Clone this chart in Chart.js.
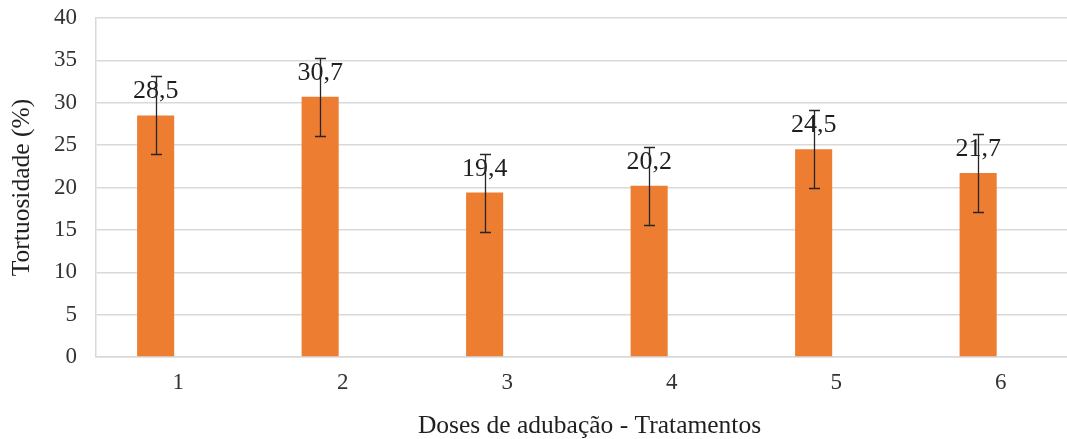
<!DOCTYPE html>
<html>
<head>
<meta charset="utf-8">
<script src="https://cdn.jsdelivr.net/npm/chart.js@4"></script>
<style>
  html, body { margin: 0; padding: 0; background: #ffffff; overflow: hidden; }
  #wrap { width: 1083px; height: 439px; }
</style>
</head>
<body>
<div id="wrap"><canvas id="c" width="1083" height="439"></canvas></div>
<script>
const categories = ['1', '2', '3', '4', '5', '6'];
const values = [28.5, 30.7, 19.4, 20.2, 24.5, 21.7];
const errors = [4.6, 4.6, 4.6, 4.6, 4.6, 4.6];
const yMin = 0, yMax = 40, yStep = 5;
const xTitle = 'Doses de adubação - Tratamentos';
const yTitle = 'Tortuosidade (%)';

const FONT = '"Liberation Serif", "Times New Roman", serif';

const errLabelPlugin = {
  id: 'errLabel',
  afterDatasetsDraw(chart) {
    const ctx = chart.ctx;
    const meta = chart.getDatasetMeta(0);
    const ys = chart.scales.y;
    ctx.save();
    meta.data.forEach((bar, i) => {
      const x = bar.x;
      const v = values[i], e = errors[i];
      ctx.fillStyle = '#1f1f1f';
      ctx.font = '26px ' + FONT;
      ctx.textAlign = 'center';
      ctx.textBaseline = 'alphabetic';
      ctx.fillText(v.toFixed(1).replace('.', ','), x, ys.getPixelForValue(v) - 17);
      const yt = Math.round(ys.getPixelForValue(v + e)) + 0.5;
      const yb = Math.round(ys.getPixelForValue(v - e)) + 0.5;
      const xc = Math.round(x) + 0.5;
      ctx.strokeStyle = '#262626';
      ctx.lineWidth = 1.3;
      ctx.beginPath();
      ctx.moveTo(xc, yt); ctx.lineTo(xc, yb);
      ctx.moveTo(xc - 5.5, yt); ctx.lineTo(xc + 5.5, yt);
      ctx.moveTo(xc - 5.5, yb); ctx.lineTo(xc + 5.5, yb);
      ctx.stroke();
    });
    ctx.restore();
  }
};

new Chart(document.getElementById('c'), {
  type: 'bar',
  data: {
    labels: categories,
    datasets: [
      {
        data: values,
        backgroundColor: '#ED7D31',
        borderWidth: 0,
        categoryPercentage: 0.5497,
        barPercentage: 0.82
      },
      {
        data: categories.map(() => null),
        backgroundColor: 'transparent',
        categoryPercentage: 0.5497,
        barPercentage: 0.82
      }
    ]
  },
  options: {
    responsive: false,
    animation: false,
    devicePixelRatio: 1,
    layout: { padding: { top: 18, right: 0, bottom: 0, left: 0 } },
    plugins: {
      legend: { display: false },
      tooltip: { enabled: false },
      title: { display: false }
    },
    scales: {
      x: {
        offset: true,
        grid: { display: false, drawTicks: false },
        border: { display: true, color: '#d9d9d9', width: 1.5 },
        ticks: {
          color: '#333333',
          font: { family: FONT, size: 23 },
          padding: 12,
          maxRotation: 0
        },
        title: {
          display: true,
          text: xTitle,
          color: '#1f1f1f',
          font: { family: FONT, size: 25.5, lineHeight: 1 },
          padding: { top: 0, bottom: 0 }
        },
        afterFit(scale) {
          scale.height = 82;
          scale.paddingLeft = 0;
          scale.paddingRight = 0;
        }
      },
      y: {
        min: yMin,
        max: yMax,
        ticks: {
          stepSize: yStep,
          color: '#333333',
          font: { family: FONT, size: 23 },
          padding: 19
        },
        grid: { color: '#d9d9d9', lineWidth: 1.5, drawTicks: false },
        border: { display: true, color: '#d9d9d9', width: 1.5 },
        title: {
          display: true,
          text: yTitle,
          color: '#1f1f1f',
          font: { family: FONT, size: 25.5, lineHeight: 1.2 },
          padding: { top: 7, bottom: 0 }
        },
        afterFit(scale) {
          scale.width = 96;
          scale.paddingTop = 0;
          scale.paddingBottom = 0;
        }
      }
    }
  },
  plugins: [errLabelPlugin]
});
</script>
</body>
</html>
